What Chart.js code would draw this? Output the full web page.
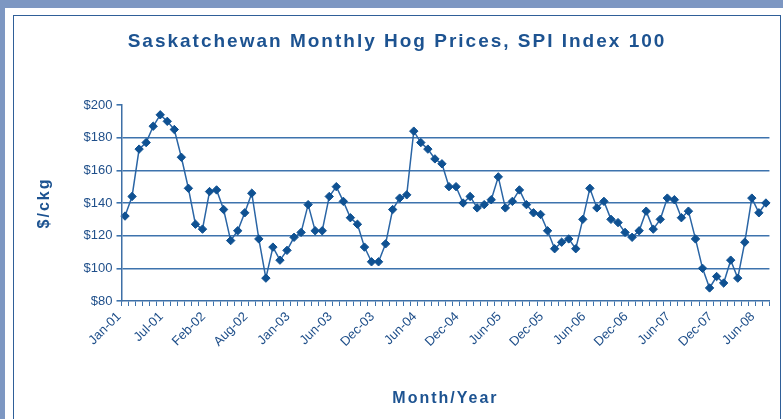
<!DOCTYPE html>
<html>
<head>
<meta charset="utf-8">
<script src="https://cdn.jsdelivr.net/npm/chart.js@4.4.1/dist/chart.umd.min.js"></script>
<style>
  body { margin: 0; width: 783px; height: 419px; overflow: hidden; background: #7d97c2; position: relative; }
  #sheet { position: absolute; left: 5px; top: 8px; right: 0; bottom: 0; background: #fff; }
  #frame { position: absolute; left: 13px; top: 15px; width: 766px; height: 420px; border: 1px solid #2f5f98; }
  #chart { position: absolute; left: 14px; top: 16px; }
</style>
</head>
<body>
<div id="sheet"></div>
<div id="frame"></div>
<canvas id="chart" width="766" height="403"></canvas>
<script>

// tick labels under the x axis, one every 6 months
tickLabels = ["Jan-01","Jul-01","Feb-02","Aug-02","Jan-03","Jun-03","Dec-03","Jun-04",
              "Dec-04","Jun-05","Dec-05","Jun-06","Dec-06","Jun-07","Dec-07","Jun-08"];
labelEvery = 6;

// monthly hog price, $/ckg (Jan-01 .. Aug-08)
prices = [132,144,173,177,187,194,190,185,168,149,127,124,
          147,148,136,117,123,134,146,118,94,113,105,111,
          119,122,139,123,123,144,150,141,131,127,113,104,
          104,115,136,143,145,184,177,173,167,164,150,150,
          140,144,137,139,142,156,137,141,148,139,134,133,
          123,112,116,118,112,130,149,137,141,130,128,122,
          119,123,135,124,130,143,142,131,135,118,100,88,
          95,91,105,94,116,143,134,140];

yTicks = [80,100,120,140,160,180,200];

months = [];
for (i = 0; i < prices.length; i++) {
  months.push(i % labelEvery == 0 ? (tickLabels[i / labelEvery] || "") : "");
}

fontName = "'Liberation Sans', Arial, sans-serif";
gridBlue = "#3d73ad";

// spaced-out titles like the original; tick labels drawn later without spacing
spacing = {
  id: "spacing",
  beforeDraw: function(chart){ chart.ctx.letterSpacing = "2px"; },
  beforeDatasetsDraw: function(chart){ chart.ctx.letterSpacing = "0px"; }
};

new Chart(document.getElementById("chart"), {
  type: 'line',
  data: {
    labels: months,
    datasets: [{
      data: prices,
      borderColor: "#2a65a5",
      borderWidth: 1.5,
      pointStyle: "rectRot",
      pointRadius: 4.2,
      pointBackgroundColor: "#0f5192",
      pointBorderColor: "#0f5192",
      pointBorderWidth: 1,
      tension: 0,
      fill: false
    }]
  },
  options: {
    responsive: false,
    animation: false,
    devicePixelRatio: 1,
    layout: { padding: { left: 9, right: 9, top: 0, bottom: 0 } },
    plugins: {
      legend: { display: false },
      tooltip: { enabled: false },
      title: {
        display: true,
        text: "Saskatchewan Monthly Hog Prices, SPI Index 100",
        color: "#1d5391",
        font: { family: fontName, size: 19, weight: "bold", lineHeight: 1.2 },
        padding: { top: 14.6, bottom: 51.6 }
      }
    },
    scales: {
      x: {
        offset: true,
        afterFit: function(scale){ scale.height = 118; },
        grid: { display: true, offset: true, drawOnChartArea: false, drawTicks: true,
                tickLength: 5, color: gridBlue, lineWidth: 1 },
        border: { display: true, color: "#3d6fa6", width: 1.5, z: 1 },
        ticks: { autoSkip: false, maxRotation: 45, minRotation: 45, padding: 3, z: 1,
                 labelOffset: -6,
                 color: "#1f4f8a", font: { family: fontName, size: 13 } },
        title: { display: true, text: "Month/Year", color: "#1d5391",
                 font: { family: fontName, size: 16, weight: "bold", lineHeight: 1.2 },
                 padding: { top: 0, bottom: 10.4 } }
      },
      y: {
        min: 80,
        max: 200,
        afterFit: function(scale){ scale.width = 98.5; },
        afterBuildTicks: function(scale){ scale.ticks = yTicks.map(function(v){ return {value: v}; }); },
        grid: {
          color: function(c){ return (c.tick.value == 200 || c.tick.value == 80) ? "rgba(0,0,0,0)" : gridBlue; },
          tickColor: gridBlue,
          lineWidth: 1.6,
          tickLength: 5
        },
        border: { display: true, color: "#3d6fa6", width: 1.5, z: 1 },
        ticks: { padding: 4, z: 1, color: "#1f4f8a", font: { family: fontName, size: 13 },
                 callback: function(v){ return "$" + v; } },
        title: { display: true, text: "$/ckg", color: "#1d5391",
                 font: { family: fontName, size: 16, weight: "bold", lineHeight: 1.2 },
                 padding: { top: 12.4, bottom: 0 } }
      }
    }
  },
  plugins: [spacing]
});
</script>
</body>
</html>
